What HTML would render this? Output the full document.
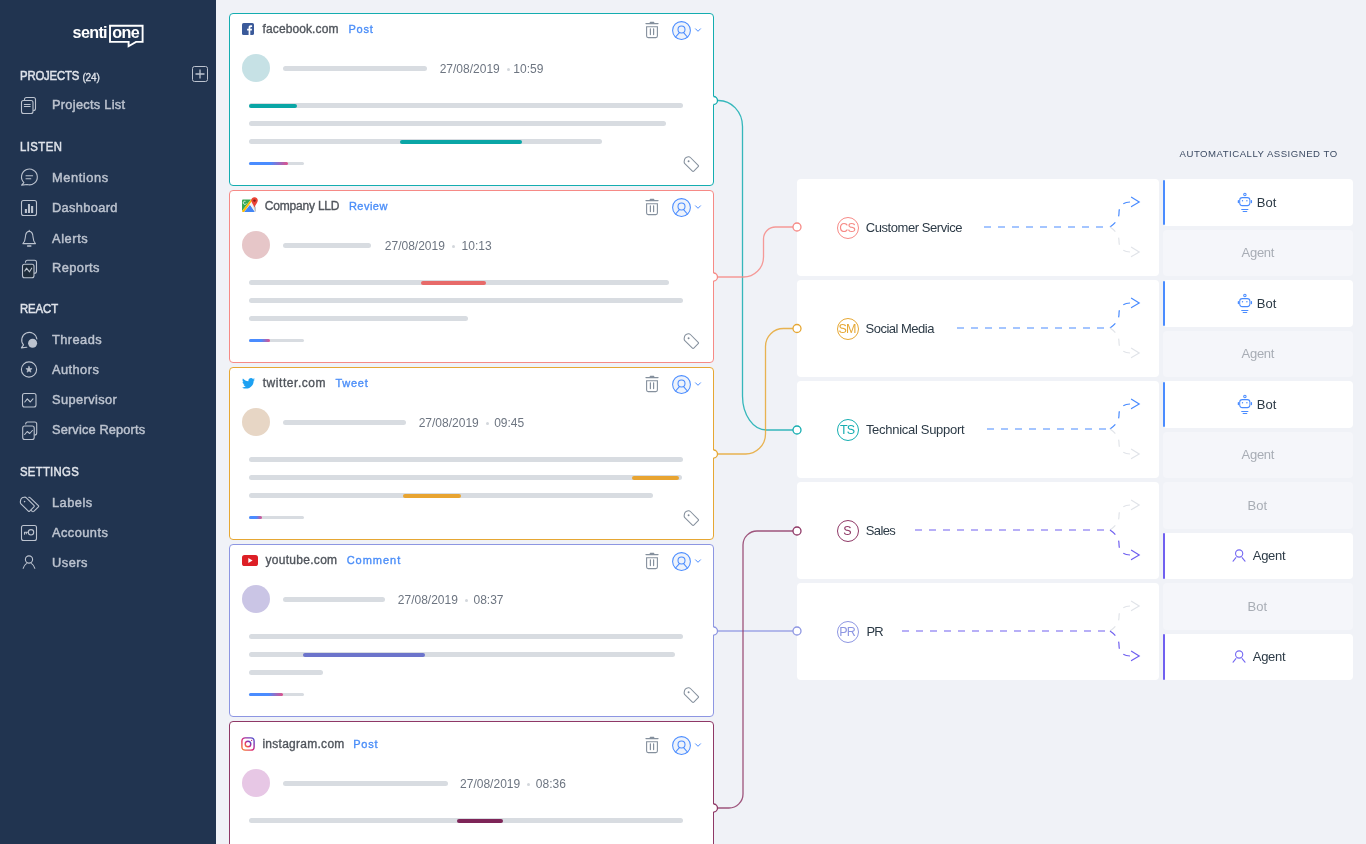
<!DOCTYPE html>
<html><head><meta charset="utf-8">
<style>
*{box-sizing:border-box;margin:0;padding:0}
html,body{width:1366px;height:844px;overflow:hidden}
body{position:relative;background:#f0f2f7;font-family:"Liberation Sans",sans-serif}
#wrap{position:absolute;left:0;top:0;width:1366px;height:844px;will-change:transform}
.a{position:absolute;white-space:pre;line-height:1}
#sb{position:absolute;left:0;top:0;width:216px;height:844px;background:#213450}
.hd{position:absolute;left:20.3px;font-size:12.6px;font-weight:400;color:#dfe3ea;-webkit-text-stroke:0.5px #dfe3ea;line-height:1;white-space:pre;transform:scaleX(0.9);transform-origin:0 0}
.it{position:absolute;left:52px;font-size:12.8px;font-weight:400;color:#bcc3cf;-webkit-text-stroke:0.45px #bcc3cf;line-height:1;white-space:pre}
.ic{position:absolute;left:20px;width:18px;height:18px;overflow:visible}
.card{position:absolute;left:229px;width:485px;height:173px;background:#fff;border:1px solid;border-radius:4px;overflow:hidden}
.dom{position:absolute;top:0;font-size:12px;font-weight:400;color:#50555c;-webkit-text-stroke:0.35px #50555c;line-height:1;white-space:pre}
.typ{position:absolute;font-size:11px;color:#4b8ef8;-webkit-text-stroke:0.35px #4b8ef8;line-height:1;white-space:pre}
.av{position:absolute;width:28px;height:28px;border-radius:50%}
.bar{position:absolute;height:5px;border-radius:3px;background:#d8dce1}
.hl{position:absolute;height:4px;border-radius:2px}
.sent{position:absolute;height:3px;width:55px;border-radius:2px;background:#d8dce1}
.date{position:absolute;font-size:12px;color:#6d7581;line-height:1;white-space:pre}
.dept{position:absolute;left:797px;width:362px;height:97px;background:#fff;border-radius:4px}
.dtxt{position:absolute;left:69px;font-size:13px;color:#2c3a46;line-height:1;white-space:pre;letter-spacing:-0.4px}
.badge{position:absolute;left:39px;width:22px;height:22px;border-radius:50%;border:1px solid;font-size:12.5px;text-align:center;line-height:20px;letter-spacing:-0.9px;text-indent:-0.9px}
.asg{position:absolute;left:1163px;width:190px;height:46.5px;border-radius:4px;background:#f5f6fa}
.asg.on{background:#fff}
.asg .bl{position:absolute;left:0;top:0.5px;bottom:0.5px;width:2px;border-radius:1px}
.atx{position:absolute;font-size:13px;line-height:1;white-space:pre}
</style></head><body>
<div id="wrap"><div id="sb">
<svg class="a" style="left:0;top:0" width="216" height="60">
<text x="72.6" y="38.2" font-family="Liberation Sans" font-weight="700" font-size="16.2" fill="#fff" letter-spacing="-0.7">senti</text>
<path d="M110,25.8 H142.6 V41.9 H136 L128.6,46.2 V41.9 H110 Z" fill="none" stroke="#fff" stroke-width="1.9" stroke-linejoin="miter"/>
<text x="112.3" y="38.2" font-family="Liberation Sans" font-weight="700" font-size="16.2" fill="#fff" letter-spacing="-0.6">one</text>
</svg>
<div class="hd" style="top:70.1px;letter-spacing:-0.19px">PROJECTS</div>
<div class="a" style="left:82.4px;top:72.5px;font-size:10px;font-weight:400;color:#dfe3ea;-webkit-text-stroke:0.3px #dfe3ea;letter-spacing:-0.1px">(24)</div>
<svg class="a" style="left:192px;top:66px" width="16" height="16"><rect x="0.5" y="0.5" width="15" height="15" rx="2" fill="none" stroke="#bcc3cf" stroke-width="1"/><path d="M8,3.5V12.5M3.5,8H12.5" stroke="#bcc3cf" stroke-width="1.3"/></svg>
<div class="it" style="top:99.15px;letter-spacing:0.28px">Projects List</div>
<div class="hd" style="top:141.1px;letter-spacing:0.49px">LISTEN</div>
<div class="it" style="top:172.15px;letter-spacing:0.6px">Mentions</div>
<div class="it" style="top:202.15px;letter-spacing:0.36px">Dashboard</div>
<div class="it" style="top:232.65px;letter-spacing:0.6px">Alerts</div>
<div class="it" style="top:262.15px;letter-spacing:0.45px">Reports</div>
<div class="hd" style="top:303.1px;letter-spacing:-0.08px">REACT</div>
<div class="it" style="top:334.15px;letter-spacing:0.45px">Threads</div>
<div class="it" style="top:364.15px;letter-spacing:0.45px">Authors</div>
<div class="it" style="top:394.15px;letter-spacing:0.4px">Supervisor</div>
<div class="it" style="top:424.15px;letter-spacing:0.15px">Service Reports</div>
<div class="hd" style="top:466.1px;letter-spacing:0.32px">SETTINGS</div>
<div class="it" style="top:497.15px;letter-spacing:0.5px">Labels</div>
<div class="it" style="top:527.15px;letter-spacing:0.45px">Accounts</div>
<div class="it" style="top:557.15px;letter-spacing:0.5px">Users</div>
<svg class="a" style="left:0;top:0" width="216" height="600" fill="none" stroke="#bcc3cf" stroke-width="1.1" stroke-linecap="round" stroke-linejoin="round">
<!-- projects list -->
<path d="M24.5,99.5 Q24.5,97.5 26.5,97.5 H33.5 Q35.5,97.5 35.5,99.5 V108.5 Q35.5,110.5 33.5,110.5"/>
<rect x="21.5" y="100.5" width="11.5" height="13" rx="2"/>
<path d="M24.3,104.5H30.2M24.3,106.5H30.2" stroke-width="1"/>
<!-- mentions -->
<path d="M23.9,182.6 A7.9,7.9 0 1 1 27.1,184.5 L21.6,185.1 Z"/>
<path d="M26,175.7H32.6M26,178.8H30.8"/>
<!-- dashboard -->
<rect x="21.5" y="200.5" width="15" height="15" rx="2"/>
<path d="M25.9,213V209M29,213V204M32.1,213V206" stroke="#bcc3cf" stroke-width="2.1" stroke-linecap="butt"/>
<!-- alerts -->
<path d="M29.2,230.3 V231.2 M29.2,231.4 C25.7,231.4 25.4,234.5 25.3,237.5 C25.1,241 24.2,242.4 22.9,243.6 H35.5 C34.2,242.4 33.3,241 33.1,237.5 C33,234.5 32.7,231.4 29.2,231.4 Z"/>
<path d="M27.6,246.1H30.8" stroke-width="1.5"/>
<!-- reports -->
<g transform="translate(1,0.8)"><path d="M24.5,261.5 Q24.5,259.5 26.5,259.5 H33.5 Q35.5,259.5 35.5,261.5 V270.5 Q35.5,272.5 33.5,272.5"/>
<rect x="21.5" y="263.5" width="11.5" height="13.5" rx="2" fill="#1e2c3b"/>
<path d="M23.8,270.2 L25.5,267.4 L28.5,271 L30.7,267.4"/></g>
<!-- threads -->
<path d="M26.8,347.2 L21.4,347.9 L23.5,344.9 A7.6,7.6 0 1 1 36.85,339"/>
<circle cx="32.6" cy="343.3" r="4.5" fill="#bcc3cf" stroke="none"/>
<!-- authors -->
<circle cx="29" cy="369.5" r="7.6"/>
<path d="M29,366.3 L29.9,368.5 L32.1,368.6 L30.4,370 L31,372.2 L29,371 L27,372.2 L27.6,370 L25.9,368.6 L28.1,368.5Z" fill="#bcc3cf" stroke-width="0.6"/>
<!-- supervisor -->
<rect x="22.5" y="393.5" width="13.5" height="13.5" rx="2"/>
<path d="M24.8,402 L27.3,398.8 L30.3,402 L33,398.8"/>
<!-- service reports -->
<g transform="translate(1.2,2.5)"><path d="M24.5,421.5 Q24.5,419.5 26.5,419.5 H33.5 Q35.5,419.5 35.5,421.5 V430.5 Q35.5,432.5 33.5,432.5"/>
<rect x="21.5" y="423.5" width="11.5" height="13.5" rx="2" fill="#213450"/>
<path d="M23.5,432 L26,429 L28.5,431 L31.2,428"/></g>
<!-- labels -->
<path transform="translate(19.2,496.4) scale(0.97)" d="M1.8,7.6 Q1,6.8 1.2,5.3 L1.6,3.4 Q2,1.8 3.6,1.2 L5.3,0.8 Q6.5,0.6 7.4,1.5 L15.2,9.3 Q15.9,10 15.2,10.7 L10.8,15.1 Q10.1,15.8 9.4,15.1 Z" stroke-width="1.13"/>
<path d="M28.8,497.3 Q29.6,497.1 30.3,497.8 L38.4,505.6 Q39,506.2 38.4,506.9 L33.8,511.4 Q33,512 32.2,511.4 L31.4,510.6"/>
<circle cx="24.6" cy="501.6" r="0.8" fill="#bcc3cf" stroke="none"/>
<!-- accounts -->
<rect x="21.5" y="525.5" width="15" height="15" rx="2"/>
<circle cx="31" cy="532.3" r="2.7"/>
<path d="M28.5,532.2 H24.5 V534.3 M26.3,532.2 V533.8"/>
<!-- users -->
<circle cx="29" cy="559.5" r="3.6"/>
<path d="M23.2,568.3 Q24,565.2 26.4,563.6 M31.6,563.6 Q34,565.2 34.8,568.3"/>
</svg>
</div>
<div class="card" style="top:13px;border-color:#14adb0"></div>
<svg class="a" style="left:242px;top:23px" width="12" height="12"><rect width="12" height="12" rx="1.6" fill="#3b5a9a"/><path d="M8.3,12V7.4H9.8L10,5.7H8.3V4.7C8.3,4.2 8.5,3.9 9.1,3.9H10.1V2.4C9.9,2.4 9.4,2.3 8.8,2.3C7.5,2.3 6.6,3.1 6.6,4.6V5.7H5.1V7.4H6.6V12Z" fill="#fff"/></svg>
<div class="dom" style="left:262.6px;top:23px;letter-spacing:0.1px">facebook.com</div>
<div class="typ" style="left:348.5px;top:24.0px;letter-spacing:0.75px">Post</div>
<svg class="a" style="left:644px;top:18px" width="62" height="24" fill="none" stroke-linecap="round"><path d="M2,5.6 H14" stroke="#85909d" stroke-width="1.3"/><path d="M6.4,4.6 H9.6" stroke="#85909d" stroke-width="1.6"/><path d="M2.6,8.8 V18 Q2.6,19.6 4.2,19.6 H11.8 Q13.4,19.6 13.4,18 V8.8 Z" stroke="#85909d" stroke-width="1.1"/><path d="M6.4,10.8 V16.6 M9.6,10.8 V16.6" stroke="#85909d" stroke-width="1.2"/><circle cx="37.5" cy="12.5" r="8.9" fill="#eef3fb" stroke="#4a8cff" stroke-width="1.05"/><circle cx="37.5" cy="11.5" r="3.5" stroke="#4a8cff" stroke-width="1.05"/><path d="M31.6,19 L35.2,14.8 M43.4,19 L39.8,14.8" stroke="#4a8cff" stroke-width="1.05"/><path d="M51.5,10.8 L54,13.3 L56.5,10.8" stroke="#4a8cff" stroke-width="1"/></svg>
<div class="av" style="left:242px;top:54.2px;background:#c6e1e5"></div>
<div class="bar" style="left:283px;top:66px;width:144.0px"></div>
<div class="date" style="left:439.7px;top:63px">27/08/2019</div>
<div class="a" style="left:507.0px;top:68.0px;width:3px;height:3px;border-radius:50%;background:#d3d7dc"></div>
<div class="date" style="left:513.3px;top:63px">10:59</div>
<div class="bar" style="left:249px;top:103px;width:434.0px"></div>
<div class="bar" style="left:249px;top:121px;width:417.0px"></div>
<div class="bar" style="left:249px;top:139px;width:353.0px"></div>
<div class="hl" style="left:249px;top:103.5px;width:48.0px;background:#0aa6a6"></div>
<div class="hl" style="left:400px;top:139.5px;width:122.0px;background:#0aa6a6"></div>
<div class="sent" style="left:249px;top:162px"></div>
<div class="sent" style="left:249px;top:162px;width:39.0px;background:linear-gradient(90deg,#4a8cff 0,#4a8cff 21px,#e0508a 39px)"></div>
<svg class="a" style="left:683px;top:156px" width="17" height="16" fill="none" stroke="#85909d" stroke-width="1.05" stroke-linejoin="round"><path d="M1.8,7.6 Q1,6.8 1.2,5.3 L1.6,3.4 Q2,1.8 3.6,1.2 L5.3,0.8 Q6.5,0.6 7.4,1.5 L15.2,9.3 Q15.9,10 15.2,10.7 L10.8,15.1 Q10.1,15.8 9.4,15.1 Z"/><circle cx="5.6" cy="5.3" r="0.95" fill="#7f8a97" stroke="none"/></svg>
<div class="card" style="top:190px;border-color:#f68a86"></div>
<svg class="a" style="left:242px;top:197px" width="17" height="17"><path d="M0,3.5 Q0,2.5 1,2.5 H9 L0,14Z" fill="#34a853"/><path d="M0,14 L9,2.5 H11 L2.2,15 H1 Q0,15 0,14Z" fill="#fbbc04"/><path d="M2.2,15 L8,7.7 L13,15Z" fill="#4285f4"/><path d="M8,7.7 L10,5 L14,10.5 V14 L13,15Z" fill="#f1f3f4"/><path d="M13,15 L14,14 V10.5 L10.7,6.2 Z" fill="#c6c6c6"/><path d="M12.5,0.3 C10.4,0.3 9.2,1.9 9.2,3.6 C9.2,5.8 11.7,7.7 12.5,10.6 C13.3,7.7 15.8,5.8 15.8,3.6 C15.8,1.9 14.6,0.3 12.5,0.3Z" fill="#ea4335"/><circle cx="12.5" cy="3.6" r="1.2" fill="#7d1d17"/><path d="M3.5,4.3 A1.6,1.6 0 1 0 4.3,6.4" fill="none" stroke="#fff" stroke-width="0.8"/></svg>
<div class="dom" style="left:264.8px;top:200px;letter-spacing:-0.2px">Company LLD</div>
<div class="typ" style="left:348.9px;top:201.0px;letter-spacing:0.48px">Review</div>
<svg class="a" style="left:644px;top:195px" width="62" height="24" fill="none" stroke-linecap="round"><path d="M2,5.6 H14" stroke="#85909d" stroke-width="1.3"/><path d="M6.4,4.6 H9.6" stroke="#85909d" stroke-width="1.6"/><path d="M2.6,8.8 V18 Q2.6,19.6 4.2,19.6 H11.8 Q13.4,19.6 13.4,18 V8.8 Z" stroke="#85909d" stroke-width="1.1"/><path d="M6.4,10.8 V16.6 M9.6,10.8 V16.6" stroke="#85909d" stroke-width="1.2"/><circle cx="37.5" cy="12.5" r="8.9" fill="#eef3fb" stroke="#4a8cff" stroke-width="1.05"/><circle cx="37.5" cy="11.5" r="3.5" stroke="#4a8cff" stroke-width="1.05"/><path d="M31.6,19 L35.2,14.8 M43.4,19 L39.8,14.8" stroke="#4a8cff" stroke-width="1.05"/><path d="M51.5,10.8 L54,13.3 L56.5,10.8" stroke="#4a8cff" stroke-width="1"/></svg>
<div class="av" style="left:242px;top:231.2px;background:#e6c6c8"></div>
<div class="bar" style="left:283px;top:243px;width:88.3px"></div>
<div class="date" style="left:384.8px;top:240px">27/08/2019</div>
<div class="a" style="left:452.1px;top:245.0px;width:3px;height:3px;border-radius:50%;background:#d3d7dc"></div>
<div class="date" style="left:461.6px;top:240px">10:13</div>
<div class="bar" style="left:249px;top:280px;width:419.6px"></div>
<div class="bar" style="left:249px;top:298px;width:433.8px"></div>
<div class="bar" style="left:249px;top:316px;width:219.3px"></div>
<div class="hl" style="left:421px;top:280.5px;width:65.0px;background:#e76a69"></div>
<div class="sent" style="left:249px;top:339px"></div>
<div class="sent" style="left:249px;top:339px;width:21.3px;background:linear-gradient(90deg,#4a8cff 0,#4a8cff 12px,#e0508a 21px)"></div>
<svg class="a" style="left:683px;top:333px" width="17" height="16" fill="none" stroke="#85909d" stroke-width="1.05" stroke-linejoin="round"><path d="M1.8,7.6 Q1,6.8 1.2,5.3 L1.6,3.4 Q2,1.8 3.6,1.2 L5.3,0.8 Q6.5,0.6 7.4,1.5 L15.2,9.3 Q15.9,10 15.2,10.7 L10.8,15.1 Q10.1,15.8 9.4,15.1 Z"/><circle cx="5.6" cy="5.3" r="0.95" fill="#7f8a97" stroke="none"/></svg>
<div class="card" style="top:367px;border-color:#e6a733"></div>
<svg class="a" style="left:242px;top:378px" width="13" height="11" viewBox="0 0 24 20"><path d="M24,2.4C23.1,2.8 22.2,3 21.2,3.2C22.2,2.6 23,1.6 23.3,0.5C22.4,1 21.4,1.4 20.3,1.6C19.4,0.6 18.1,0 16.7,0C14,0 11.8,2.2 11.8,4.9C11.8,5.3 11.9,5.7 11.9,6C7.8,5.8 4.2,3.9 1.7,0.9C1.3,1.6 1,2.5 1,3.4C1,5.1 1.9,6.6 3.2,7.5C2.4,7.5 1.7,7.2 1,6.9V6.9C1,9.3 2.7,11.3 4.9,11.7C4.5,11.8 4.1,11.9 3.6,11.9C3.3,11.9 3,11.9 2.7,11.8C3.3,13.8 5.1,15.2 7.3,15.2C5.6,16.5 3.5,17.3 1.2,17.3C0.8,17.3 0.4,17.3 0,17.2C2.2,18.6 4.8,19.4 7.5,19.4C16.6,19.4 21.5,11.9 21.5,5.4L21.5,4.8C22.5,4.1 23.3,3.3 24,2.4Z" fill="#1da1f2"/></svg>
<div class="dom" style="left:262.7px;top:377px;letter-spacing:0.55px">twitter.com</div>
<div class="typ" style="left:335.4px;top:378.0px;letter-spacing:0.76px">Tweet</div>
<svg class="a" style="left:644px;top:372px" width="62" height="24" fill="none" stroke-linecap="round"><path d="M2,5.6 H14" stroke="#85909d" stroke-width="1.3"/><path d="M6.4,4.6 H9.6" stroke="#85909d" stroke-width="1.6"/><path d="M2.6,8.8 V18 Q2.6,19.6 4.2,19.6 H11.8 Q13.4,19.6 13.4,18 V8.8 Z" stroke="#85909d" stroke-width="1.1"/><path d="M6.4,10.8 V16.6 M9.6,10.8 V16.6" stroke="#85909d" stroke-width="1.2"/><circle cx="37.5" cy="12.5" r="8.9" fill="#eef3fb" stroke="#4a8cff" stroke-width="1.05"/><circle cx="37.5" cy="11.5" r="3.5" stroke="#4a8cff" stroke-width="1.05"/><path d="M31.6,19 L35.2,14.8 M43.4,19 L39.8,14.8" stroke="#4a8cff" stroke-width="1.05"/><path d="M51.5,10.8 L54,13.3 L56.5,10.8" stroke="#4a8cff" stroke-width="1"/></svg>
<div class="av" style="left:242px;top:408.2px;background:#e7d6c5"></div>
<div class="bar" style="left:283px;top:420px;width:122.7px"></div>
<div class="date" style="left:418.7px;top:417px">27/08/2019</div>
<div class="a" style="left:486.0px;top:422.0px;width:3px;height:3px;border-radius:50%;background:#d3d7dc"></div>
<div class="date" style="left:494.2px;top:417px">09:45</div>
<div class="bar" style="left:249px;top:457px;width:433.8px"></div>
<div class="bar" style="left:249px;top:475px;width:432.8px"></div>
<div class="bar" style="left:249px;top:493px;width:403.5px"></div>
<div class="hl" style="left:631.6px;top:475.5px;width:47.1px;background:#e8a431"></div>
<div class="hl" style="left:403.3px;top:493.5px;width:58.2px;background:#e8a431"></div>
<div class="sent" style="left:249px;top:516px"></div>
<div class="sent" style="left:249px;top:516px;width:13.0px;background:linear-gradient(90deg,#4a8cff 0,#4a8cff 7px,#e0508a 13px)"></div>
<svg class="a" style="left:683px;top:510px" width="17" height="16" fill="none" stroke="#85909d" stroke-width="1.05" stroke-linejoin="round"><path d="M1.8,7.6 Q1,6.8 1.2,5.3 L1.6,3.4 Q2,1.8 3.6,1.2 L5.3,0.8 Q6.5,0.6 7.4,1.5 L15.2,9.3 Q15.9,10 15.2,10.7 L10.8,15.1 Q10.1,15.8 9.4,15.1 Z"/><circle cx="5.6" cy="5.3" r="0.95" fill="#7f8a97" stroke="none"/></svg>
<div class="card" style="top:544px;border-color:#8d96e2"></div>
<svg class="a" style="left:242px;top:555px" width="16" height="11"><rect width="16" height="11" rx="2.6" fill="#dd1f26"/><path d="M6.3,3.1 L10.6,5.5 L6.3,7.9Z" fill="#fff"/></svg>
<div class="dom" style="left:265.4px;top:554px;letter-spacing:0.3px">youtube.com</div>
<div class="typ" style="left:346.7px;top:555.0px;letter-spacing:0.97px">Comment</div>
<svg class="a" style="left:644px;top:549px" width="62" height="24" fill="none" stroke-linecap="round"><path d="M2,5.6 H14" stroke="#85909d" stroke-width="1.3"/><path d="M6.4,4.6 H9.6" stroke="#85909d" stroke-width="1.6"/><path d="M2.6,8.8 V18 Q2.6,19.6 4.2,19.6 H11.8 Q13.4,19.6 13.4,18 V8.8 Z" stroke="#85909d" stroke-width="1.1"/><path d="M6.4,10.8 V16.6 M9.6,10.8 V16.6" stroke="#85909d" stroke-width="1.2"/><circle cx="37.5" cy="12.5" r="8.9" fill="#eef3fb" stroke="#4a8cff" stroke-width="1.05"/><circle cx="37.5" cy="11.5" r="3.5" stroke="#4a8cff" stroke-width="1.05"/><path d="M31.6,19 L35.2,14.8 M43.4,19 L39.8,14.8" stroke="#4a8cff" stroke-width="1.05"/><path d="M51.5,10.8 L54,13.3 L56.5,10.8" stroke="#4a8cff" stroke-width="1"/></svg>
<div class="av" style="left:242px;top:585.2px;background:#cac5e5"></div>
<div class="bar" style="left:283px;top:597px;width:101.8px"></div>
<div class="date" style="left:397.8px;top:594px">27/08/2019</div>
<div class="a" style="left:465.1px;top:599.0px;width:3px;height:3px;border-radius:50%;background:#d3d7dc"></div>
<div class="date" style="left:473.5px;top:594px">08:37</div>
<div class="bar" style="left:249px;top:634px;width:433.8px"></div>
<div class="bar" style="left:249px;top:652px;width:426.0px"></div>
<div class="bar" style="left:249px;top:670px;width:74.2px"></div>
<div class="hl" style="left:303px;top:652.5px;width:121.8px;background:#6c74cb"></div>
<div class="sent" style="left:249px;top:693px"></div>
<div class="sent" style="left:249px;top:693px;width:33.8px;background:linear-gradient(90deg,#4a8cff 0,#4a8cff 19px,#e0508a 34px)"></div>
<svg class="a" style="left:683px;top:687px" width="17" height="16" fill="none" stroke="#85909d" stroke-width="1.05" stroke-linejoin="round"><path d="M1.8,7.6 Q1,6.8 1.2,5.3 L1.6,3.4 Q2,1.8 3.6,1.2 L5.3,0.8 Q6.5,0.6 7.4,1.5 L15.2,9.3 Q15.9,10 15.2,10.7 L10.8,15.1 Q10.1,15.8 9.4,15.1 Z"/><circle cx="5.6" cy="5.3" r="0.95" fill="#7f8a97" stroke="none"/></svg>
<div class="card" style="top:721px;border-color:#8f3866"></div>
<svg class="a" style="left:241px;top:737px" width="14" height="14"><defs><linearGradient id="igg" x1="0" y1="1" x2="1" y2="0"><stop offset="0" stop-color="#f58529"/><stop offset="0.45" stop-color="#dd2a7b"/><stop offset="0.75" stop-color="#8134af"/><stop offset="1" stop-color="#515bd4"/></linearGradient></defs><rect x="0.9" y="0.9" width="12.2" height="12.2" rx="3.2" fill="none" stroke="url(#igg)" stroke-width="1.4"/><circle cx="7" cy="7" r="2.8" fill="none" stroke="url(#igg)" stroke-width="1.4"/><circle cx="10.6" cy="3.4" r="0.65" fill="#c13584"/></svg>
<div class="dom" style="left:262.4px;top:738px;letter-spacing:0.27px">instagram.com</div>
<div class="typ" style="left:353.2px;top:739.0px;letter-spacing:0.75px">Post</div>
<svg class="a" style="left:644px;top:733px" width="62" height="24" fill="none" stroke-linecap="round"><path d="M2,5.6 H14" stroke="#85909d" stroke-width="1.3"/><path d="M6.4,4.6 H9.6" stroke="#85909d" stroke-width="1.6"/><path d="M2.6,8.8 V18 Q2.6,19.6 4.2,19.6 H11.8 Q13.4,19.6 13.4,18 V8.8 Z" stroke="#85909d" stroke-width="1.1"/><path d="M6.4,10.8 V16.6 M9.6,10.8 V16.6" stroke="#85909d" stroke-width="1.2"/><circle cx="37.5" cy="12.5" r="8.9" fill="#eef3fb" stroke="#4a8cff" stroke-width="1.05"/><circle cx="37.5" cy="11.5" r="3.5" stroke="#4a8cff" stroke-width="1.05"/><path d="M31.6,19 L35.2,14.8 M43.4,19 L39.8,14.8" stroke="#4a8cff" stroke-width="1.05"/><path d="M51.5,10.8 L54,13.3 L56.5,10.8" stroke="#4a8cff" stroke-width="1"/></svg>
<div class="av" style="left:242px;top:769.2px;background:#e7c7e5"></div>
<div class="bar" style="left:283px;top:781px;width:164.7px"></div>
<div class="date" style="left:460.1px;top:778px">27/08/2019</div>
<div class="a" style="left:527.4px;top:783.0px;width:3px;height:3px;border-radius:50%;background:#d3d7dc"></div>
<div class="date" style="left:535.8px;top:778px">08:36</div>
<div class="bar" style="left:249px;top:818px;width:433.8px"></div>
<div class="hl" style="left:457.2px;top:818.5px;width:45.4px;background:#7e2558"></div>
<div class="a" style="left:1179.6px;top:149.4px;font-size:9.6px;color:#3b4a62;letter-spacing:0.5px">AUTOMATICALLY ASSIGNED TO</div>
<div class="dept" style="top:179px"></div>
<div class="badge" style="left:836.5px;top:216.5px;border-color:#f68a86;color:#f68a86">CS</div>
<div class="dtxt" style="left:865.7px;top:221.0px;letter-spacing:-0.43px">Customer Service</div>
<div class="asg on" style="top:179px"><div class="bl" style="background:#4a8cff"></div></div>
<svg class="a" style="left:1237px;top:192px" width="16" height="21" fill="none" stroke="#4a8cff" stroke-width="1.05" stroke-linecap="round"><circle cx="7.9" cy="2.5" r="1.2"/><rect x="2.7" y="5.6" width="10.2" height="8" rx="2.6"/><path d="M1.4,8.7 V10.5 M14.4,8.7 V10.5" stroke-width="1.3"/><circle cx="5.5" cy="8.8" r="0.7" fill="#4a8cff" stroke="none"/><circle cx="9.9" cy="8.8" r="0.7" fill="#4a8cff" stroke="none"/><path d="M4.7,17.5 H10.9 M6.1,19.4 H9.8"/></svg>
<div class="atx" style="left:1256.8px;top:196.0px;color:#2c3a46">Bot</div>
<div class="asg" style="top:229.5px"></div>
<div class="atx" style="left:1241.6px;top:245.5px;color:#a8adb5;letter-spacing:-0.3px">Agent</div>
<div class="dept" style="top:280px"></div>
<div class="badge" style="left:836.5px;top:317.5px;border-color:#e6a733;color:#e6a733">SM</div>
<div class="dtxt" style="left:865.5px;top:322.0px;letter-spacing:-0.5px">Social Media</div>
<div class="asg on" style="top:280px"><div class="bl" style="background:#4a8cff"></div></div>
<svg class="a" style="left:1237px;top:293px" width="16" height="21" fill="none" stroke="#4a8cff" stroke-width="1.05" stroke-linecap="round"><circle cx="7.9" cy="2.5" r="1.2"/><rect x="2.7" y="5.6" width="10.2" height="8" rx="2.6"/><path d="M1.4,8.7 V10.5 M14.4,8.7 V10.5" stroke-width="1.3"/><circle cx="5.5" cy="8.8" r="0.7" fill="#4a8cff" stroke="none"/><circle cx="9.9" cy="8.8" r="0.7" fill="#4a8cff" stroke="none"/><path d="M4.7,17.5 H10.9 M6.1,19.4 H9.8"/></svg>
<div class="atx" style="left:1256.8px;top:297.0px;color:#2c3a46">Bot</div>
<div class="asg" style="top:330.5px"></div>
<div class="atx" style="left:1241.6px;top:346.5px;color:#a8adb5;letter-spacing:-0.3px">Agent</div>
<div class="dept" style="top:381px"></div>
<div class="badge" style="left:836.5px;top:418.5px;border-color:#14adb0;color:#14adb0">TS</div>
<div class="dtxt" style="left:865.9px;top:423.0px;letter-spacing:-0.29px">Technical Support</div>
<div class="asg on" style="top:381px"><div class="bl" style="background:#4a8cff"></div></div>
<svg class="a" style="left:1237px;top:394px" width="16" height="21" fill="none" stroke="#4a8cff" stroke-width="1.05" stroke-linecap="round"><circle cx="7.9" cy="2.5" r="1.2"/><rect x="2.7" y="5.6" width="10.2" height="8" rx="2.6"/><path d="M1.4,8.7 V10.5 M14.4,8.7 V10.5" stroke-width="1.3"/><circle cx="5.5" cy="8.8" r="0.7" fill="#4a8cff" stroke="none"/><circle cx="9.9" cy="8.8" r="0.7" fill="#4a8cff" stroke="none"/><path d="M4.7,17.5 H10.9 M6.1,19.4 H9.8"/></svg>
<div class="atx" style="left:1256.8px;top:398.0px;color:#2c3a46">Bot</div>
<div class="asg" style="top:431.5px"></div>
<div class="atx" style="left:1241.6px;top:447.5px;color:#a8adb5;letter-spacing:-0.3px">Agent</div>
<div class="dept" style="top:482px"></div>
<div class="badge" style="left:836.5px;top:519.5px;border-color:#8f3866;color:#8f3866">S</div>
<div class="dtxt" style="left:865.7px;top:524.0px;letter-spacing:-0.6px">Sales</div>
<div class="asg" style="top:482px"></div>
<div class="atx" style="left:1247.6px;top:499.0px;color:#a8adb5">Bot</div>
<div class="asg on" style="top:532.5px"><div class="bl" style="background:#7060f0"></div></div>
<svg class="a" style="left:1231.5px;top:548.5px" width="14" height="14" fill="none" stroke="#7468f2" stroke-width="1.1" stroke-linecap="round"><circle cx="7.15" cy="4.5" r="3.6"/><path d="M3.9,8.7 L1.1,12.2 M10.1,8.6 L13,12.2"/></svg>
<div class="atx" style="left:1252.8px;top:548.5px;color:#2c3a46;letter-spacing:-0.3px">Agent</div>
<div class="dept" style="top:583px"></div>
<div class="badge" style="left:836.5px;top:620.5px;border-color:#8d96e2;color:#8d96e2">PR</div>
<div class="dtxt" style="left:866.5px;top:625.0px;letter-spacing:-0.9px">PR</div>
<div class="asg" style="top:583px"></div>
<div class="atx" style="left:1247.6px;top:600.0px;color:#a8adb5">Bot</div>
<div class="asg on" style="top:633.5px"><div class="bl" style="background:#7060f0"></div></div>
<svg class="a" style="left:1231.5px;top:649.5px" width="14" height="14" fill="none" stroke="#7468f2" stroke-width="1.1" stroke-linecap="round"><circle cx="7.15" cy="4.5" r="3.6"/><path d="M3.9,8.7 L1.1,12.2 M10.1,8.6 L13,12.2"/></svg>
<div class="atx" style="left:1252.8px;top:649.5px;color:#2c3a46;letter-spacing:-0.3px">Agent</div>
<svg class="a" style="left:0;top:0;z-index:2" width="1366" height="844" fill="none">
<path d="M984,227 H1110" stroke="#4a8cff" stroke-opacity="0.5" stroke-width="2" stroke-dasharray="7 7"/>
<path d="M1110,227 Q1119,221 1119,213 Q1119,202 1131,202" stroke="#4a8cff" stroke-width="1.2" stroke-dasharray="7 7"/>
<path d="M1131.5,197.2 L1139.2,202 L1131.5,206.6" stroke="#4a8cff" stroke-width="1.2" stroke-linecap="round"/>
<path d="M1110,227 Q1119,233 1119,241 Q1119,252 1131,252" stroke="#e1e4e9" stroke-width="1.2" stroke-dasharray="7 7"/>
<path d="M1131.5,247.2 L1139.2,252 L1131.5,256.6" stroke="#e1e4e9" stroke-width="1.2" stroke-linecap="round"/>
<path d="M957,328 H1110" stroke="#4a8cff" stroke-opacity="0.5" stroke-width="2" stroke-dasharray="7 7"/>
<path d="M1110,328 Q1119,322 1119,314 Q1119,303 1131,303" stroke="#4a8cff" stroke-width="1.2" stroke-dasharray="7 7"/>
<path d="M1131.5,298.2 L1139.2,303 L1131.5,307.6" stroke="#4a8cff" stroke-width="1.2" stroke-linecap="round"/>
<path d="M1110,328 Q1119,334 1119,342 Q1119,353 1131,353" stroke="#e1e4e9" stroke-width="1.2" stroke-dasharray="7 7"/>
<path d="M1131.5,348.2 L1139.2,353 L1131.5,357.6" stroke="#e1e4e9" stroke-width="1.2" stroke-linecap="round"/>
<path d="M987,429 H1110" stroke="#4a8cff" stroke-opacity="0.5" stroke-width="2" stroke-dasharray="7 7"/>
<path d="M1110,429 Q1119,423 1119,415 Q1119,404 1131,404" stroke="#4a8cff" stroke-width="1.2" stroke-dasharray="7 7"/>
<path d="M1131.5,399.2 L1139.2,404 L1131.5,408.6" stroke="#4a8cff" stroke-width="1.2" stroke-linecap="round"/>
<path d="M1110,429 Q1119,435 1119,443 Q1119,454 1131,454" stroke="#e1e4e9" stroke-width="1.2" stroke-dasharray="7 7"/>
<path d="M1131.5,449.2 L1139.2,454 L1131.5,458.6" stroke="#e1e4e9" stroke-width="1.2" stroke-linecap="round"/>
<path d="M915,530 H1110" stroke="#7060f0" stroke-opacity="0.5" stroke-width="2" stroke-dasharray="7 7"/>
<path d="M1110,530 Q1119,524 1119,516 Q1119,505 1131,505" stroke="#e1e4e9" stroke-width="1.2" stroke-dasharray="7 7"/>
<path d="M1131.5,500.2 L1139.2,505 L1131.5,509.6" stroke="#e1e4e9" stroke-width="1.2" stroke-linecap="round"/>
<path d="M1110,530 Q1119,536 1119,544 Q1119,555 1131,555" stroke="#7060f0" stroke-width="1.2" stroke-dasharray="7 7"/>
<path d="M1131.5,550.2 L1139.2,555 L1131.5,559.6" stroke="#7060f0" stroke-width="1.2" stroke-linecap="round"/>
<path d="M902,631 H1110" stroke="#7060f0" stroke-opacity="0.5" stroke-width="2" stroke-dasharray="7 7"/>
<path d="M1110,631 Q1119,625 1119,617 Q1119,606 1131,606" stroke="#e1e4e9" stroke-width="1.2" stroke-dasharray="7 7"/>
<path d="M1131.5,601.2 L1139.2,606 L1131.5,610.6" stroke="#e1e4e9" stroke-width="1.2" stroke-linecap="round"/>
<path d="M1110,631 Q1119,637 1119,645 Q1119,656 1131,656" stroke="#7060f0" stroke-width="1.2" stroke-dasharray="7 7"/>
<path d="M1131.5,651.2 L1139.2,656 L1131.5,660.6" stroke="#7060f0" stroke-width="1.2" stroke-linecap="round"/>
<path d="M718,100.5 A24,26 0 0 1 742.5,126.5 V396 A24,34 0 0 0 766.5,430 H793" stroke="#14adb0" stroke-width="1.3" stroke-opacity="0.85"/>
<rect x="712" y="96.5" width="2.5" height="8" fill="#fff"/>
<path d="M713.5,96.5 A4,4 0 0 1 713.5,104.5" stroke="#14adb0" stroke-width="1.3" fill="#fff"/>
<circle cx="797" cy="430" r="4" stroke="#14adb0" stroke-width="1.3" fill="#fff"/>
<path d="M718,277 H743 A20,20 0 0 0 763.5,257 V239 A12,12 0 0 1 775.5,227 H793" stroke="#f68a86" stroke-width="1.3" stroke-opacity="0.85"/>
<rect x="712" y="273" width="2.5" height="8" fill="#fff"/>
<path d="M713.5,273 A4,4 0 0 1 713.5,281" stroke="#f68a86" stroke-width="1.3" fill="#fff"/>
<circle cx="797" cy="227" r="4" stroke="#f68a86" stroke-width="1.3" fill="#fff"/>
<path d="M718,454 H745 A20,20 0 0 0 765.5,434 V346.5 A18,18 0 0 1 783.5,328.5 H793" stroke="#e6a733" stroke-width="1.3" stroke-opacity="0.85"/>
<rect x="712" y="450" width="2.5" height="8" fill="#fff"/>
<path d="M713.5,450 A4,4 0 0 1 713.5,458" stroke="#e6a733" stroke-width="1.3" fill="#fff"/>
<circle cx="797" cy="328.5" r="4" stroke="#e6a733" stroke-width="1.3" fill="#fff"/>
<path d="M718,631 H793" stroke="#8d96e2" stroke-width="1.3" stroke-opacity="0.85"/>
<rect x="712" y="627" width="2.5" height="8" fill="#fff"/>
<path d="M713.5,627 A4,4 0 0 1 713.5,635" stroke="#8d96e2" stroke-width="1.3" fill="#fff"/>
<circle cx="797" cy="631" r="4" stroke="#8d96e2" stroke-width="1.3" fill="#fff"/>
<path d="M718,808 H729 A14,14 0 0 0 743,794 V545 A14,14 0 0 1 757,531 H793" stroke="#8f3866" stroke-width="1.3" stroke-opacity="0.85"/>
<rect x="712" y="804" width="2.5" height="8" fill="#fff"/>
<path d="M713.5,804 A4,4 0 0 1 713.5,812" stroke="#8f3866" stroke-width="1.3" fill="#fff"/>
<circle cx="797" cy="531" r="4" stroke="#8f3866" stroke-width="1.3" fill="#fff"/>
</svg>
</div></body></html>
